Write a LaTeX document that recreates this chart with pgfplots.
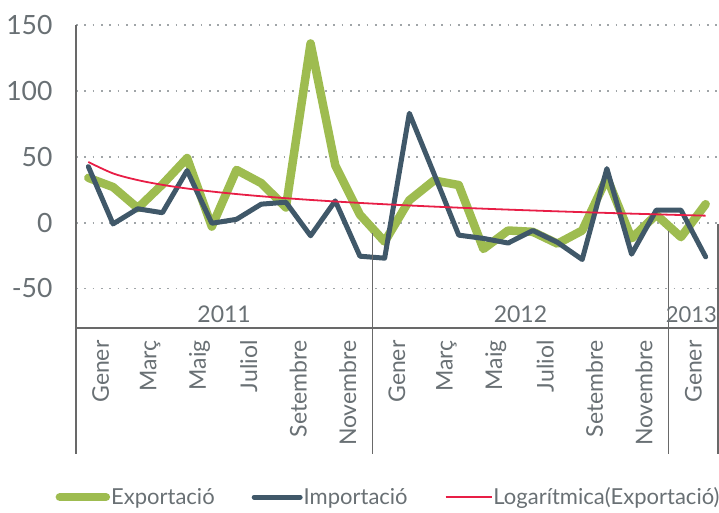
\documentclass[border=0pt]{standalone}
\usepackage{pgfplots}
\pgfplotsset{compat=1.18}
\usepackage{pgfplotstable}
\usepackage{fontspec}
\setmainfont{Lato}

\definecolor{expcol}{RGB}{158,188,80}
\definecolor{impcol}{RGB}{64,88,105}
\definecolor{logcol}{RGB}{232,30,70}
\definecolor{txtcol}{RGB}{105,112,116}
\definecolor{axcol}{RGB}{105,105,105}
\definecolor{gridcol}{RGB}{160,165,168}

% month index (0 = Gener 2011), Exportacio, Importacio, log trend of Exportacio
\pgfplotstableread{
x  exp   imp    log
0  34    42.5   46.00
1  27    -1     37.34
2  11    10.5   32.27
3  29    7.5    28.67
4  49    39.5   25.88
5  -3    -0.5   23.60
6  40    2.5    21.68
7  30    14     20.01
8  11.5  15.5   18.54
9  136   -10    17.22
10 43.5  16.5   16.03
11 6     -25.5  14.94
12 -14.5 -27    13.94
13 17    83     13.01
14 32    37     12.15
15 28.5  -9.5   11.34
16 -20   -12    10.58
17 -6    -15.5  9.87
18 -7    -6     9.20
19 -16   -15    8.55
20 -6    -28    7.94
21 34    41     7.36
22 -12   -24    6.81
23 6     9.5    6.28
24 -11   9.5    5.76
25 14    -26    5.27
}\data

\begin{document}
\begin{tikzpicture}
\path[use as bounding box] (0,0) rectangle (719pt,512pt);
\begin{axis}[
  at={(76pt,184pt)}, anchor=south west,
  scale only axis, width=642pt, height=303pt,
  xmin=-0.5, xmax=25.5, ymin=-80, ymax=150,
  clip=false,
  axis line style={draw=none},
  major tick length=0pt,
  ytick={-50,0,50,100,150},
  ymajorgrids,
  grid style={gridcol, line width=1.8pt, dash pattern=on 1.8pt off 6.5pt},
  yticklabel style={font=\fontsize{26.5}{30}\selectfont, text=txtcol},
  yticklabel shift=20pt,
  /pgf/number format/assume math mode=true,
  xtick={0.5,2.5,...,24.5},
  xticklabels={Gener,Març,Maig,Juliol,Setembre,Novembre,Gener,Març,Maig,Juliol,Setembre,Novembre,Gener},
  xticklabel style={rotate=90, anchor=east, font=\fontsize{23}{27}\selectfont, text=txtcol},
  xticklabel shift=9pt,
  legend columns=3,
  legend style={at={(0.486,-0.558)}, anchor=center, draw=none, fill=none,
    font=\fontsize{22}{26}\selectfont, text=txtcol,
    inner xsep=0pt, nodes={inner xsep=1pt},
    /tikz/every even column/.append style={column sep=36pt}},
  legend image code/.code={\draw[#1] (0pt,0pt) -- (46pt,0pt);},
]
\addplot[expcol, line width=8.5pt, line join=round, line cap=round] table[x=x, y=exp] {\data};
\addlegendentry{Exportació}
\addplot[impcol, line width=5pt, line join=round, line cap=round] table[x=x, y=imp] {\data};
\addlegendentry{Importació}
\addplot[logcol, line width=1.8pt, smooth] table[x=x, y=log] {\data};
\addlegendentry{Logarítmica(Exportació)}

% axis frame and multi-level category separators
\draw[axcol, line width=1.6pt] (axis cs:-0.5,150) -- (axis cs:-0.5,-176);
\draw[axcol, line width=1.6pt] (axis cs:-0.5,-80) -- (axis cs:25.5,-80);
\draw[axcol, line width=1.6pt] (axis cs:11.5,-8) -- (axis cs:11.5,-176);
\draw[axcol, line width=1.6pt] (axis cs:23.5,-6) -- (axis cs:23.5,-176);
\draw[axcol, line width=1.6pt] (axis cs:25.5,-1) -- (axis cs:25.5,-176);
\node[text=txtcol, font=\fontsize{23}{27}\selectfont] at (axis cs:5.5,-69.5) {2011};
\node[text=txtcol, font=\fontsize{23}{27}\selectfont] at (axis cs:17.5,-69.5) {2012};
\node[text=txtcol, font=\fontsize{22}{26}\selectfont] at (axis cs:24.42,-69.5) {2013};
\end{axis}
\end{tikzpicture}
\end{document}
